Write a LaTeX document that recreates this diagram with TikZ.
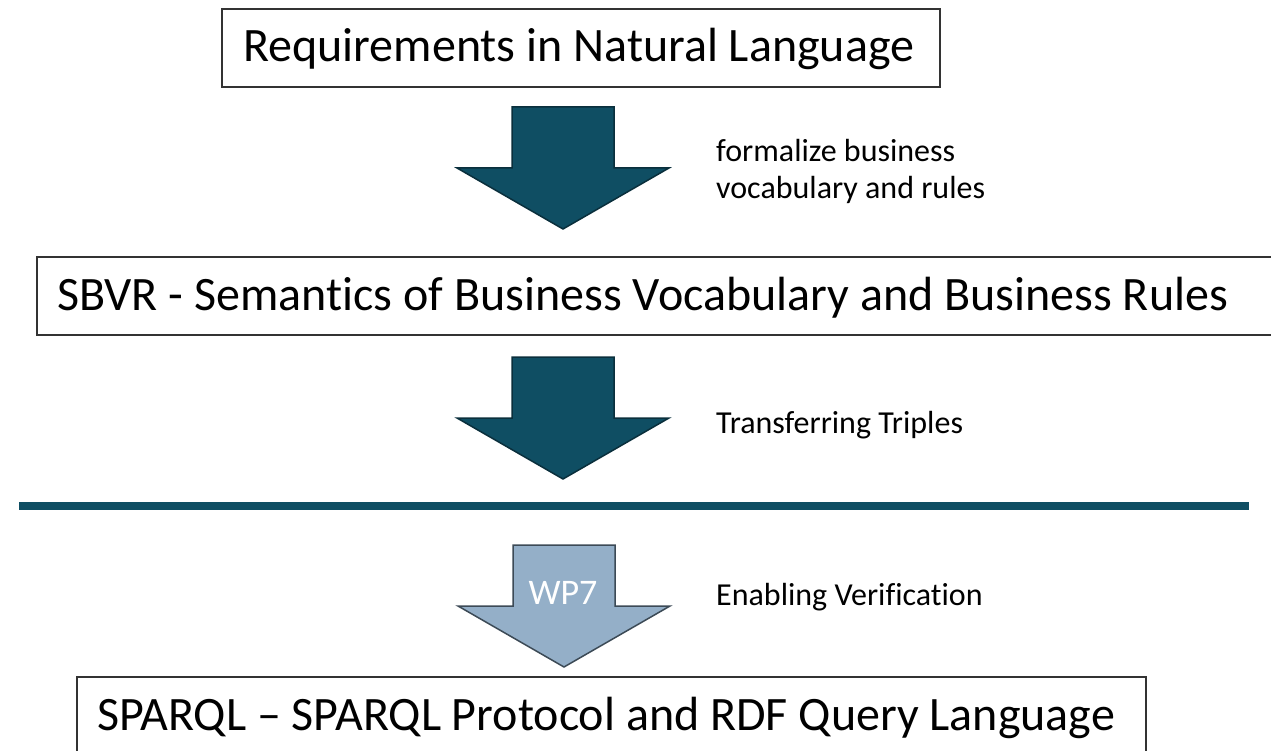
\documentclass[tikz,border=0pt]{standalone}
\usepackage{fontspec}
\setmainfont{Carlito}[Ligatures=NoCommon]
\usetikzlibrary{positioning}
\definecolor{teal}{HTML}{0F4E63}
\definecolor{tealdark}{HTML}{0A2F3C}
\definecolor{paleblue}{HTML}{94AFC8}
\definecolor{slate}{HTML}{3C4A56}
\definecolor{boxline}{HTML}{333333}
\tikzset{
  bigtext/.style={font=\fontsize{48}{56}\selectfont, anchor=west, inner sep=0pt},
  note/.style={font=\fontsize{32}{37}\selectfont, anchor=west, inner sep=0pt, align=left},
  darkarrow/.style={fill=teal, draw=tealdark, line width=1.5pt, line join=miter},
  lightarrow/.style={fill=paleblue, draw=slate, line width=1.5pt, line join=miter},
  divider/.style={draw=teal, line width=8pt},
  frame/.style={draw=boxline, line width=2pt},
  pics/blockarrow/.style={code={
    \path[#1] (-51,0) -- (51,0) -- (51,61) -- (106,61) -- (0,122) -- (-106,61) -- (-51,61) -- cycle;
  }}
}
\begin{document}
\begin{tikzpicture}[x=1pt,y=-1pt]
  \useasboundingbox (0,0) rectangle (1271,751);
  \begin{scope}
    \clip (0,0) rectangle (1271,751);
    % frames round the three levels
    \draw[frame] (222,9) rectangle (940,87);
    \draw[frame] (37,257) rectangle (1290,335);
    \draw[frame] (77,677) rectangle (1146,770);
  \end{scope}
  \node[bigtext] (req) at (243,49) {Requirements in Natural Language};
  \node[bigtext] (sbvr) at (57,298) {SBVR - Semantics of Business Vocabulary and Business Rules};
  \node[bigtext] (sparql) at (97,718) {SPARQL – SPARQL Protocol and RDF Query Language};

  % transformation arrows
  \pic at (563,107) {blockarrow=darkarrow};
  \pic at (563,357) {blockarrow=darkarrow};
  \pic at (564,545) {blockarrow=lightarrow};
  \node[font=\fontsize{36}{42}\selectfont, text=white, inner sep=0pt] (wp) at (563,593) {WP7};

  % separator
  \draw[divider] (19,506) coordinate (dl) -- (1249,506) coordinate (dr);

  % step annotations
  \node[note] (n1) at (716,171) {formalize business\\vocabulary and rules};
  \node[note] (n2) at (716,425) {Transferring Triples};
  \node[note] (n3) at (716,597) {Enabling Verification};
\end{tikzpicture}
\end{document}
